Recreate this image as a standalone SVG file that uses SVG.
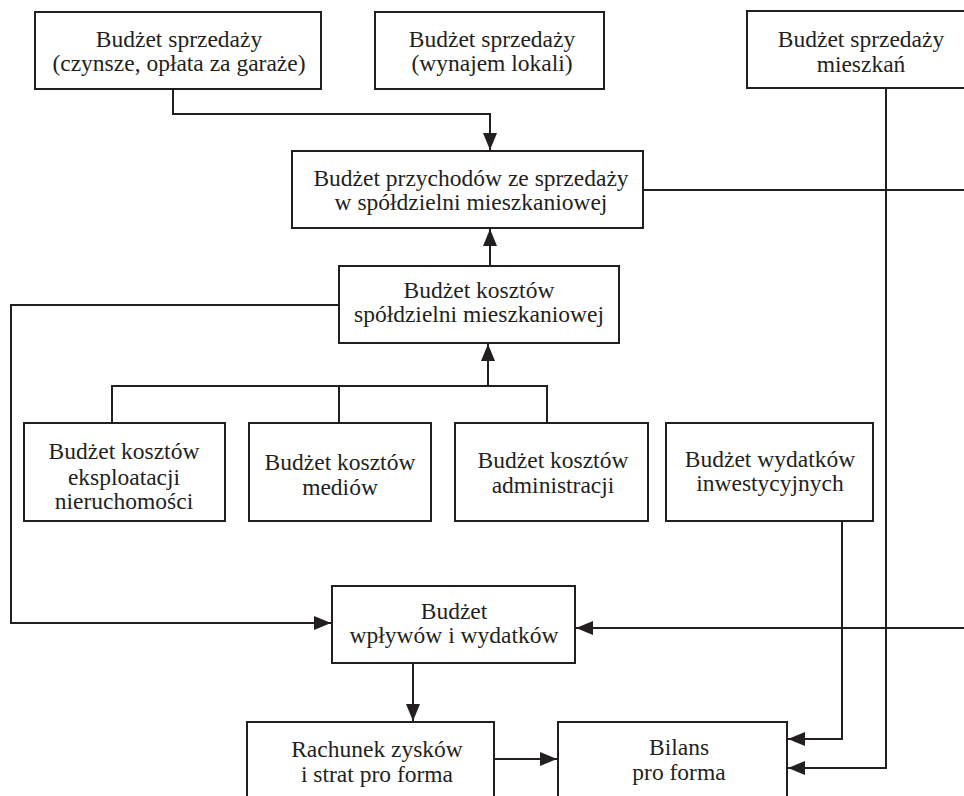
<svg xmlns="http://www.w3.org/2000/svg" width="964" height="796" viewBox="0 0 964 796">
<style>
.box{fill:#fff;stroke:#231f20;stroke-width:2}
.ln{fill:none;stroke:#231f20;stroke-width:2}
text{font-family:"Liberation Serif","Times New Roman",serif;font-size:23.5px;fill:#231f20;text-anchor:middle}
</style>
<defs>
<marker id="ah" markerUnits="userSpaceOnUse" markerWidth="17" markerHeight="14" refX="17" refY="7" orient="auto">
<path d="M0,0 L17,7 L0,14 z" fill="#231f20"/>
</marker>
</defs>
<rect width="964" height="796" fill="#fff"/>
<g id="connectors">
<path class="ln" d="M173,89 V114 H490 V150" marker-end="url(#ah)"/>
<path class="ln" d="M490,266 V229" marker-end="url(#ah)"/>
<path class="ln" d="M112,423 V386 H547 V423 M339,423 V386"/>
<path class="ln" d="M488,386 V344" marker-end="url(#ah)"/>
<path class="ln" d="M339,305 H11 V623 H331" marker-end="url(#ah)"/>
<path class="ln" d="M975,628 H576" marker-end="url(#ah)"/>
<path class="ln" d="M643,190 H975"/>
<path class="ln" d="M886,88 V768 H788" marker-end="url(#ah)"/>
<path class="ln" d="M842,521 V739 H788" marker-end="url(#ah)"/>
<path class="ln" d="M413,663 V721" marker-end="url(#ah)"/>
<path class="ln" d="M494,759 H557" marker-end="url(#ah)"/>
</g>
<g id="n1"><rect class="box" x="35" y="12" width="286" height="77"/><text x="179" y="47">Budżet sprzedaży</text><text x="179" y="71">(czynsze, opłata za garaże)</text></g>
<g id="n2"><rect class="box" x="375" y="12" width="229" height="77"/><text x="492" y="47">Budżet sprzedaży</text><text x="492" y="71">(wynajem lokali)</text></g>
<g id="n3"><rect class="box" x="747" y="11" width="230" height="77"/><text x="861" y="47">Budżet sprzedaży</text><text x="861" y="72">mieszkań</text></g>
<g id="n4"><rect class="box" x="292" y="151" width="351" height="77"/><text x="471" y="186">Budżet przychodów ze sprzedaży</text><text x="471" y="210">w spółdzielni mieszkaniowej</text></g>
<g id="n5"><rect class="box" x="339" y="266" width="280" height="77"/><text x="479" y="298">Budżet kosztów</text><text x="479" y="322">spółdzielni mieszkaniowej</text></g>
<g id="n6"><rect class="box" x="24" y="423" width="201" height="98"/><text x="124" y="459">Budżet kosztów</text><text x="124" y="485">eksploatacji</text><text x="124" y="509">nieruchomości</text></g>
<g id="n7"><rect class="box" x="249" y="423" width="182" height="98"/><text x="340" y="470">Budżet kosztów</text><text x="340" y="495">mediów</text></g>
<g id="n8"><rect class="box" x="455" y="423" width="193" height="98"/><text x="553" y="468">Budżet kosztów</text><text x="553" y="493">administracji</text></g>
<g id="n9"><rect class="box" x="666" y="423" width="207" height="98"/><text x="770" y="467">Budżet wydatków</text><text x="770" y="491">inwestycyjnych</text></g>
<g id="n10"><rect class="box" x="332" y="586" width="243" height="77"/><text x="454" y="619">Budżet</text><text x="454" y="643">wpływów i wydatków</text></g>
<g id="n11"><rect class="box" x="247" y="722" width="247" height="90"/><text x="377" y="757">Rachunek zysków</text><text x="377" y="782">i strat pro forma</text></g>
<g id="n12"><rect class="box" x="558" y="722" width="229" height="90"/><text x="679" y="755">Bilans</text><text x="679" y="780">pro forma</text></g>
</svg>
